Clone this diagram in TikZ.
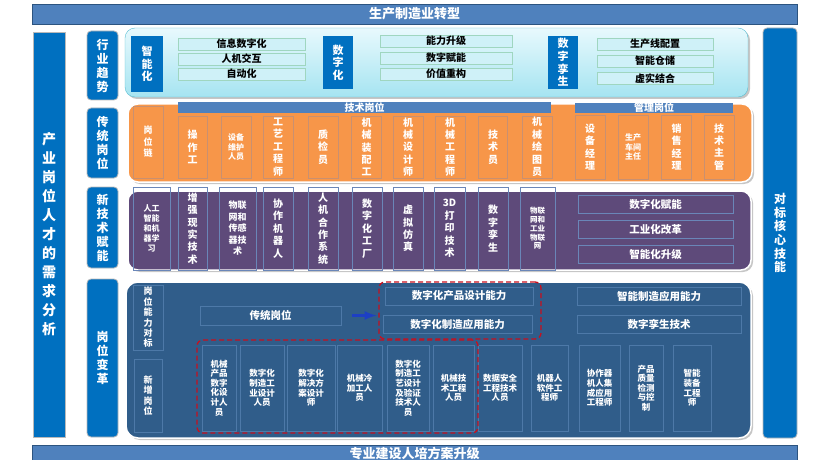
\documentclass[tikz,border=0pt]{standalone}
\usepackage{fontspec}
\setmainfont{Noto Sans CJK SC}
\usepackage{tikz}
\usetikzlibrary{arrows}
\definecolor{barblue}{HTML}{4F81BD}
\definecolor{barline}{HTML}{2C5480}
\definecolor{sideblue}{HTML}{0070C0}
\definecolor{cyantop}{HTML}{E8F9FD}
\definecolor{cyanbot}{HTML}{A5E4F1}
\definecolor{cyanline}{HTML}{5BBFD3}
\definecolor{trendline}{HTML}{9FD6C0}
\definecolor{trendfill}{HTML}{CFF1F8}
\definecolor{orangefill}{HTML}{F79649}
\definecolor{orangeline}{HTML}{C99070}
\definecolor{purplefill}{HTML}{5E4A7A}
\definecolor{purpleline}{HTML}{6A86B8}
\definecolor{navyfill}{HTML}{305D8A}
\definecolor{navyline}{HTML}{4D79A8}
\definecolor{dashred}{HTML}{C8101E}
\definecolor{arrowblue}{HTML}{1D3FC4}
\newcommand\fbig{\bfseries\fontsize{10}{12.4}\selectfont}
\newcommand\fmid{\bfseries\fontsize{9}{11.5}\selectfont}
\newcommand\fsmall{\bfseries\fontsize{8}{9.8}\selectfont}
\newcommand\ftiny{\bfseries\fontsize{7.5}{8.7}\selectfont}
\newcommand\fnew{\bfseries\fontsize{8.5}{9.6}\selectfont}
\begin{document}
\begin{tikzpicture}[x=1pt,y=-1pt,
                      bar/.style={draw=barline,fill=barblue,text=white,inner sep=0pt,font=\bfseries\fontsize{13}{15}\selectfont},
                      sidebox/.style={draw=gray!55,line width=0.8pt,fill=sideblue,rounded corners=4pt,text=white,inner sep=0pt,align=center},
                      trendhead/.style={fill=sideblue,text=white,inner sep=0pt,align=center,font=\bfseries\fontsize{11}{12.6}\selectfont},
                      trendbox/.style={draw=trendline,fill=trendfill,inner sep=0pt,font=\bfseries\fontsize{10}{12}\selectfont},
                      head/.style={fill=barblue,text=white,inner sep=0pt,font=\bfseries\fontsize{10}{11}\selectfont},
                      jobbox/.style={draw=orangeline,inner sep=0pt,align=center,text=white},
                      techbox/.style={draw=purpleline,inner sep=0pt,align=center,text=white},
                      navybox/.style={draw=navyline,inner sep=0pt,align=center,text=white},
                      redzone/.style={draw=dashred,dash pattern=on 5pt off 3pt,line width=1.3pt,rounded corners=6pt,inner sep=0pt}]
                      \useasboundingbox (0,0) rectangle (820,460);
                      \node[bar,minimum width=765,minimum height=20] (top) at (414.5,14) {生产制造业转型};
                      \node[bar,minimum width=765,minimum height=17] (bottom) at (414.5,453.5) {专业建设人培方案升级};
                      \node[sidebox,rounded corners=0pt,minimum width=32,minimum height=405,font=\bfseries\fontsize{14}{19}\selectfont] (demand) at (49,234.5) {产\\业\\岗\\位\\人\\才\\的\\需\\求\\分\\析};
                      \node[sidebox,minimum width=34,minimum height=410,font=\bfseries\fontsize{12}{13.7}\selectfont] (core) at (780,233) {对\\标\\核\\心\\技\\能};
                      \foreach \cy/\h/\txt [count=\i] in {65.5/69/{行\\业\\趋\\势},143/70/{传\\统\\岗\\位},227.5/81/{新\\技\\术\\赋\\能},358/158/{岗\\位\\变\\革}}
                        \node[sidebox,minimum width=31,minimum height=\h,font=\bfseries\fontsize{12}{14}\selectfont] (row\i) at (102.5,\cy) {\txt};
                      \fill[gray!45,rounded corners=10pt] (127,30) rectangle (750,99);
                      \path[draw=cyanline,top color=cyantop,bottom color=cyanbot,rounded corners=10pt] (125,28) rectangle (748,97);
                      \fill[gray!45,rounded corners=10pt] (130,106) rectangle (754,184);
                      \draw[white,line width=1.5pt,fill=orangefill,rounded corners=10pt] (128,104) rectangle (752,182);
                      \fill[gray!45,rounded corners=10pt] (130,193) rectangle (753,272);
                      \draw[white,line width=1.5pt,fill=purplefill,rounded corners=10pt] (128,191) rectangle (751,270);
                      \fill[gray!45,rounded corners=12pt] (128,284) rectangle (753,440);
                      \draw[white,line width=1.5pt,fill=navyfill,rounded corners=12pt] (126,282) rectangle (751,438);
                      \node[trendhead,minimum width=32,minimum height=56] (smart) at (147,64) {智\\能\\化};
                      \node[trendhead,minimum width=30,minimum height=53] (digit) at (338,62.5) {数\\字\\化};
                      \node[trendhead,minimum width=30,minimum height=53] (twin) at (563,62.5) {数\\字\\孪\\生};
                      \foreach \cy/\txt [count=\i] in {44/信息数字化,59/人机交互,74/自动化}
                        \node[trendbox,minimum width=127,minimum height=12] (smart\i) at (241.5,\cy) {\txt};
                      \foreach \cy/\txt [count=\i] in {41/能力升级,58/数字赋能,74/价值重构}
                        \node[trendbox,minimum width=132,minimum height=12] (digit\i) at (446,\cy) {\txt};
                      \foreach \cy/\txt [count=\i] in {44/生产线配置,61/智能仓储,78.5/虚实结合}
                        \node[trendbox,minimum width=116,minimum height=12] (twin\i) at (655,\cy) {\txt};
                      \node[head,minimum width=373,minimum height=11] (techhead) at (364.5,108) {技术岗位};
                      \node[head,minimum width=158,minimum height=10] (manhead) at (654,108) {管理岗位};
                      \node[jobbox,minimum width=30,minimum height=72,font=\fmid] (chain) at (148,142) {岗\\位\\链};
                      \foreach \cx/\w/\fs/\txt [count=\i] in {192.5/29/\fbig/{操\\作\\工},236/30/\fsmall/{设备\\维护\\人员},278/30/\fbig/{工\\艺\\工\\程\\师},
                          323/30/\fbig/{质\\检\\员},366.5/30/\fbig/{机\\械\\装\\配\\工},408/30/\fbig/{机\\械\\设\\计\\师},
                          450/30/\fbig/{机\\械\\工\\程\\师},493/29/\fbig/{技\\术\\员},537/30/\fbig/{机\\械\\绘\\图\\员}}
                        \node[jobbox,minimum width=\w,minimum height=62,font=\fs] (trad\i) at (\cx,147) {\txt};
                      \foreach \cx/\fs/\txt [count=\i] in {590/\fbig/{设\\备\\经\\理},633/\fsmall/{生产\\车间\\主任},676.5/\fbig/{销\\售\\经\\理},719/\fbig/{技\\术\\主\\管}}
                        \node[jobbox,minimum width=30,minimum height=64,font=\fs] (man\i) at (\cx,147) {\txt};
                      \foreach \cx/\w/\fs/\txt [count=\i] in {151.5/37/\fsmall/{人工\\智能\\和机\\器学\\习},192.5/29/\fbig/{增\\强\\现\\实\\技\\术},
                          237.5/37/\fmid/{物联\\网和\\传感\\器技\\术},278/30/\fbig/{协\\作\\机\\器\\人},323/30/\fbig/{人\\机\\合\\作\\系\\统},
                          367/30/\fbig/{数\\字\\化\\工\\厂},408/30/\fbig/{虚\\拟\\仿\\真},449.5/31/\fbig/{3D\\打\\印\\技\\术},
                          493/30/\fbig/{数\\字\\孪\\生},537.5/35/\ftiny/{物联\\网和\\工业\\物联\\网}}
                        \node[techbox,minimum width=\w,minimum height=83,font=\fs] (tech\i) at (\cx,228.5) {\txt};
                      \foreach \cy/\txt [count=\i] in {204/数字化赋能,229.5/工业化改革,254/智能化升级}
                        \node[techbox,minimum width=155,minimum height=18,font=\bfseries\fontsize{10.5}{12}\selectfont] (goal\i) at (655.5,\cy) {\txt};
                      \node[navybox,minimum width=30,minimum height=65,font=\bfseries\fontsize{9}{10.4}\selectfont] (bench) at (148,317.5) {岗\\位\\能\\力\\对\\标};
                      \node[navybox,minimum width=28,minimum height=73,font=\bfseries\fontsize{9}{10.4}\selectfont] (newpost) at (148,395.5) {新\\增\\岗\\位};
                      \node[navybox,minimum width=141,minimum height=19,font=\bfseries\fontsize{10.5}{12}\selectfont] (oldpost) at (270.5,315.5) {传统岗位};
                      \foreach \cx/\cy/\w/\txt [count=\i] in {459/296/148/数字化产品设计能力,457.5/324/149/数字化制造应用能力,
                          659/296/164/智能制造应用能力,659/324/164/数字孪生技术}
                        \node[navybox,minimum width=\w,minimum height=18,font=\bfseries\fontsize{10.5}{12}\selectfont] (cap\i) at (\cx,\cy) {\txt};
                      \node[redzone,minimum width=162,minimum height=57] (capzone) at (460,310.5) {};
                      \draw[-latex,line width=3pt,arrowblue,shorten <=11pt,shorten >=2pt] (oldpost.east) -- (oldpost.east -| capzone.west);
                      \foreach \cx/\w/\txt [count=\i] in {219/34/{机械\\产品\\数字\\化设\\计人\\员},262/44/{数字化\\制造工\\业设计\\人员},
                          311/48/{数字化\\解决方\\案设计\\师},359.5/45/{机械冷\\加工人\\员},408/42/{数字化\\制造工\\艺设计\\及验证\\技术人\\员},
                          453.5/41/{机械技\\术工程\\人员},500/44/{数据安全\\工程技术\\人员},549.5/37/{机器人\\软件工\\程师},
                          599.5/41/{协作器\\机人集\\成应用\\工程师},646/34/{产品\\质量\\检测\\与控\\制},692/38/{智能\\装备\\工程\\师}}
                        \node[navybox,minimum width=\w,minimum height=86,font=\fnew] (job\i) at (\cx,388) {\txt};
                      \node[redzone,minimum width=281,minimum height=93] (jobzone) at (337.5,386.5) {};
                  \end{tikzpicture}
\end{document}
